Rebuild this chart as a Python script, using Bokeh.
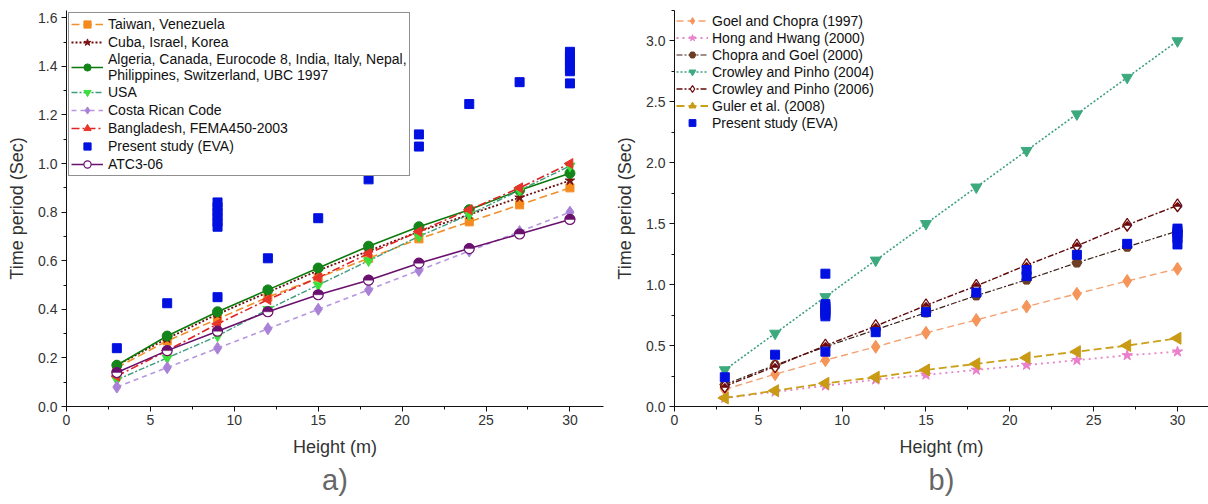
import numpy as np
from bokeh.plotting import figure
from bokeh.models import Range1d, Legend, LegendItem, Title, FixedTicker, PrintfTickFormatter
from bokeh.layouts import row
from bokeh.embed import file_html
from bokeh.resources import INLINE
from bokeh.core.properties import value

# ---------------- data ----------------
heights = [3, 6, 9, 12, 15, 18, 21, 24, 27, 30]

# panel a) building codes
taiwan = [0.16, 0.27, 0.36, 0.45, 0.53, 0.61, 0.69, 0.76, 0.83, 0.90]
cuba = [0.17, 0.28, 0.38, 0.47, 0.56, 0.64, 0.72, 0.79, 0.86, 0.93]
algeria = [0.17, 0.29, 0.39, 0.48, 0.57, 0.66, 0.74, 0.81, 0.89, 0.96]
usa = [0.11, 0.20, 0.29, 0.40, 0.50, 0.60, 0.70, 0.79, 0.89, 0.99]
costa = [0.08, 0.16, 0.24, 0.32, 0.40, 0.48, 0.56, 0.64, 0.72, 0.80]
bangladesh = [0.125, 0.23, 0.34, 0.44, 0.53, 0.63, 0.72, 0.81, 0.90, 1.00]
atc = [0.14, 0.23, 0.31, 0.39, 0.46, 0.52, 0.59, 0.65, 0.71, 0.77]

# present study (EVA)
eva_h = [3, 6, 9, 9, 9, 9, 9, 9, 9, 9, 12, 15, 18, 21, 21, 24, 27, 30, 30, 30, 30, 30, 30]
eva_t = [0.24, 0.425, 0.45, 0.74, 0.76, 0.78, 0.80, 0.82, 0.84, 1.09, 0.61, 0.775, 0.935,
         1.07, 1.12, 1.245, 1.335, 1.33, 1.38, 1.40, 1.42, 1.44, 1.46]

# panel b) empirical formulas
goel97 = [0.14, 0.265, 0.38, 0.49, 0.605, 0.71, 0.82, 0.925, 1.03, 1.13]
hong00 = [0.07, 0.12, 0.17, 0.22, 0.26, 0.30, 0.34, 0.38, 0.42, 0.45]
chopra00 = [0.18, 0.34, 0.49, 0.63, 0.77, 0.91, 1.04, 1.18, 1.31, 1.44]
crowley04 = [0.3, 0.6, 0.9, 1.2, 1.5, 1.8, 2.1, 2.4, 2.7, 3.0]
crowley06 = [0.165, 0.33, 0.50, 0.66, 0.83, 0.99, 1.16, 1.32, 1.49, 1.65]
guler08 = [0.07, 0.13, 0.19, 0.24, 0.30, 0.35, 0.40, 0.45, 0.50, 0.56]

x_major = [0, 5, 10, 15, 20, 25, 30]
x_minor = [2.5, 7.5, 12.5, 17.5, 22.5, 27.5]
ya_major = [0.0, 0.2, 0.4, 0.6, 0.8, 1.0, 1.2, 1.4, 1.6]
ya_minor = [0.1, 0.3, 0.5, 0.7, 0.9, 1.1, 1.3, 1.5]
yb_major = [0.0, 0.5, 1.0, 1.5, 2.0, 2.5, 3.0]
yb_minor = [0.25, 0.75, 1.25, 1.75, 2.25, 2.75, 3.25]

FONT = "Liberation Sans"


def make_fig(width, xmax, ymax, ymaj, ymin, bl, br, label):
    p = figure(width=width, height=504, output_backend="svg", toolbar_location=None,
               x_range=Range1d(0, xmax), y_range=Range1d(0, ymax),
               min_border_left=bl, min_border_right=br, min_border_top=10, min_border_bottom=98)
    p.outline_line_color = None
    p.grid.visible = False
    p.xaxis.ticker = FixedTicker(ticks=x_major, minor_ticks=x_minor)
    p.yaxis.ticker = FixedTicker(ticks=ymaj, minor_ticks=ymin)
    p.yaxis.formatter = PrintfTickFormatter(format="%.1f")
    p.xaxis.formatter = PrintfTickFormatter(format="%d")
    for ax in (p.xaxis, p.yaxis):
        ax.major_tick_in = 0
        ax.major_tick_out = 5
        ax.minor_tick_in = 0
        ax.minor_tick_out = 3
        ax.axis_line_color = "#111111"
        ax.major_tick_line_color = "#111111"
        ax.minor_tick_line_color = "#111111"
        ax.major_label_text_font = FONT
        ax.major_label_text_font_size = "14px"
        ax.major_label_text_color = "#333333"
        ax.axis_label_text_font = FONT
        ax.axis_label_text_font_size = "18px"
        ax.axis_label_text_font_style = "normal"
        ax.axis_label_text_color = "#333333"
    p.xaxis.axis_label = "Height (m)"
    p.yaxis.axis_label = "Time period (Sec)"
    p.xaxis.major_label_standoff = 3
    p.xaxis.axis_label_standoff = 9
    p.yaxis.major_label_standoff = 4
    p.yaxis.axis_label_standoff = 8
    t = Title(text=label, align="center", text_font_size="29px", text_color="#666666",
              text_font_style="normal", text_font=FONT, standoff=4)
    p.add_layout(t, "below")
    return p


def make_legend(items, pad, standoff, gh):
    return Legend(items=items, location="top_left", margin=2, padding=pad, spacing=0,
                  label_standoff=standoff, glyph_width=32, glyph_height=gh, label_height=16,
                  label_text_font=FONT, label_text_font_size="14px", label_text_color="#111111",
                  label_text_line_height=1.25)


# ---------------- panel a ----------------
p1 = make_fig(606, 32, 1.63, ya_major, ya_minor, 66, 3, "a)")
items1 = []

l = p1.line(heights, taiwan, line_color="#F0902A", line_width=1.6, line_dash="8 4")
s = p1.scatter(heights, taiwan, marker="square", size=8, fill_color="#F58A1F", line_color="#F58A1F")
items1.append(LegendItem(label="Taiwan, Venezuela", renderers=[l, s]))

l = p1.line(heights, cuba, line_color="#6E0E0E", line_width=1.8, line_dash="2 2")
s = p1.scatter(heights, cuba, marker="star", size=10, fill_color="#7A1212", line_color="#7A1212")
items1.append(LegendItem(label="Cuba, Israel, Korea", renderers=[l, s]))

l = p1.line(heights, algeria, line_color="#0B7A0B", line_width=1.6)
s = p1.scatter(heights, algeria, marker="circle", size=10, fill_color="#13851A", line_color="#13851A")
items1.append(LegendItem(label="Algeria, Canada, Eurocode 8, India, Italy, Nepal,\nPhilippines, Switzerland, UBC 1997",
                         renderers=[l, s]))

l = p1.line(heights, usa, line_color="#3E9C7C", line_width=1.4, line_dash="6 2 2 2")
s = p1.scatter(heights, usa, marker="inverted_triangle", size=10, fill_color="#3BE03B", line_color="#3BE03B")
items1.append(LegendItem(label="USA", renderers=[l, s]))

l = p1.line(heights, costa, line_color="#B796E0", line_width=1.6, line_dash="5 4")
s = p1.scatter(heights, costa, marker="diamond", size=12, fill_color="#A982D8", line_color="#A982D8")
items1.append(LegendItem(label="Costa Rican Code", renderers=[l, s]))

l = p1.line(heights, bangladesh, line_color="#E02424", line_width=1.6, line_dash="8 3 2 3")
s = p1.scatter(heights, bangladesh, marker="triangle", angle=np.pi / 2, size=10,
               fill_color="#E8352A", line_color="#E8352A")
items1.append(LegendItem(label="Bangladesh, FEMA450-2003", renderers=[l, s]))

s = p1.scatter(eva_h, eva_t, marker="square", size=9, fill_color="#0010E0", line_color="#0010E0")
items1.append(LegendItem(label="Present study (EVA)", renderers=[s]))

l = p1.line(heights, atc, line_color="#6A106E", line_width=1.6)
s = p1.scatter(heights, atc, marker="circle", size=10, fill_color="white", line_color="#6A106E", line_width=1.2)
p1.wedge(heights, atc, radius=5, radius_units="screen", start_angle=0, end_angle=np.pi,
         fill_color="#6A106E", line_color="#6A106E", line_width=0.5)
items1.append(LegendItem(label="ATC3-06", renderers=[l, s]))

leg1 = make_legend(items1, 2, 5, 18)
leg1.border_line_color = "#222222"
leg1.border_line_width = 1
leg1.background_fill_color = "white"
leg1.background_fill_alpha = 1.0
p1.add_layout(leg1, "center")

# ---------------- panel b ----------------
p2 = make_fig(602, 31.85, 3.25, yb_major, yb_minor, 68, 0, "b)")
items2 = []

l = p2.line(heights, goel97, line_color="#F5A070", line_width=1.4, line_dash="7 4")
s = p2.scatter(heights, goel97, marker="diamond", size=13, fill_color="#F5955A", line_color="#F5955A")
items2.append(LegendItem(label="Goel and Chopra (1997)", renderers=[l, s]))

l = p2.line(heights, hong00, line_color="#E585C8", line_width=1.8, line_dash="2 4")
s = p2.scatter(heights, hong00, marker="star", size=11, fill_color="#EA80CC", line_color="#EA80CC")
items2.append(LegendItem(label="Hong and Hwang (2000)", renderers=[l, s]))

l = p2.line(heights, chopra00, line_color="#3A2018", line_width=1.2, line_dash="6 2 2 2")
s = p2.scatter(heights, chopra00, marker="hex", size=10, fill_color="#6E3E24", line_color="#6E3E24")
items2.append(LegendItem(label="Chopra and Goel (2000)", renderers=[l, s]))

l = p2.line(heights, crowley04, line_color="#3C9E84", line_width=1.6, line_dash="2 2")
s = p2.scatter(heights, crowley04, marker="inverted_triangle", size=11, fill_color="#3DAA7E", line_color="#3DAA7E")
items2.append(LegendItem(label="Crowley and Pinho (2004)", renderers=[l, s]))

l = p2.line(heights, crowley06, line_color="#5E0A0A", line_width=1.4, line_dash="6 2 2 2")
s = p2.scatter(heights, crowley06, marker="diamond", size=13, fill_color="white", line_color="#6E0A0A", line_width=1.2)
p2.text(heights, crowley06, text=value("\u2b18"), text_align="center", text_baseline="middle",
        text_font=value("DejaVu Sans"), text_font_size="13px", text_color="#6E0A0A")
items2.append(LegendItem(label="Crowley and Pinho (2006)", renderers=[l, s]))

l = p2.line(heights, guler08, line_color="#C9A018", line_width=1.8, line_dash="8 4")
s = p2.scatter(heights, guler08, marker="triangle", angle=np.pi / 2, size=12,
               fill_color="#C99A14", line_color="#C99A14")
items2.append(LegendItem(label="Guler et al. (2008)", renderers=[l, s]))

s = p2.scatter(eva_h, eva_t, marker="square", size=9, fill_color="#0010E0", line_color="#0010E0")
items2.append(LegendItem(label="Present study (EVA)", renderers=[s]))

leg2 = make_legend(items2, 1, 4, 17)
leg2.border_line_color = None
leg2.background_fill_alpha = 0.0
p2.add_layout(leg2, "center")

layout = row(p1, p2)
open("out.html", "w").write(file_html(layout, INLINE))
